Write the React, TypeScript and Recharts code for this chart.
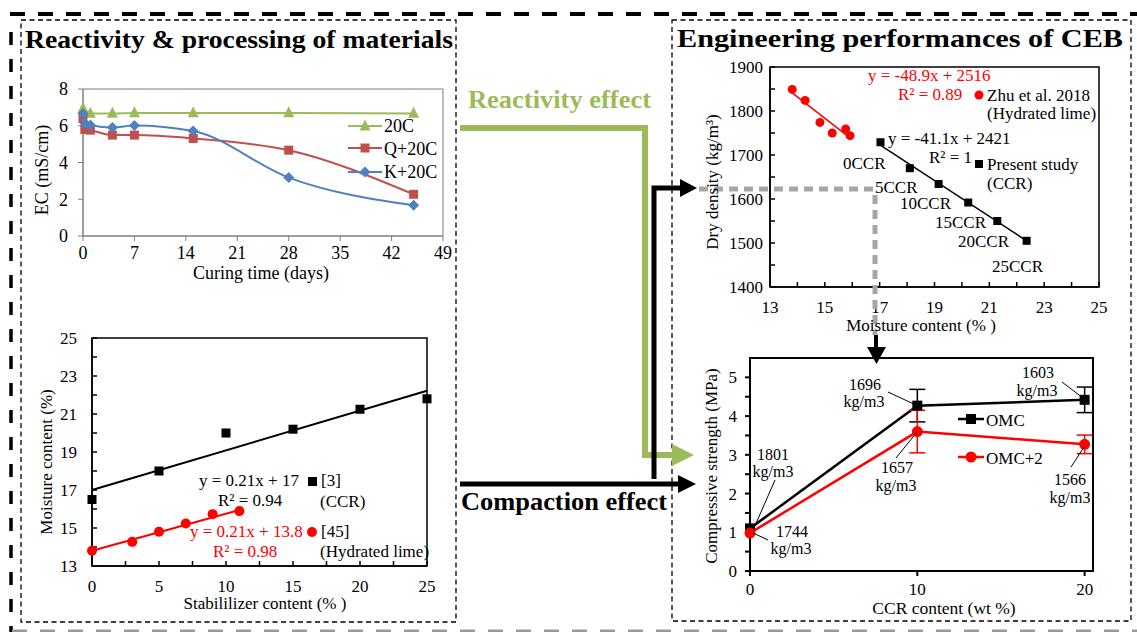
import React from 'react';
import { ComposedChart, Line, Scatter, XAxis, YAxis, ReferenceArea, ErrorBar } from 'recharts';

const SERIF = '"Liberation Serif", "Times New Roman", Times, serif';

// EC vs curing time
const curingDays = [0, 0.25, 1, 4, 7, 15, 28, 45];
const ec20C = [6.95, null, 6.67, 6.67, 6.7, 6.7, 6.7, 6.67];
const ecQ20C = [6.4, 5.8, 5.76, 5.49, 5.49, 5.31, 4.67, 2.27];
const ecK20C = [6.67, 6.13, 6.04, 5.9, 6.02, 5.71, 3.18, 1.67];
const curingTicks = [0, 7, 14, 21, 28, 35, 42, 49];
const ecTicks = [0, 2, 4, 6, 8];

// moisture content vs stabilizer content
const ccrStabilizer = [0, 5, 10, 15, 20, 25];
const ccrMoisture = [16.5, 18.0, 20.0, 20.2, 21.25, 21.8];
const limeStabilizer = [0, 3, 5, 7, 9, 11];
const limeMoisture = [13.8, 14.27, 14.8, 15.24, 15.73, 15.89];
const ccrFitX = [0, 25];
const ccrFitY = [17.0, 22.22];
const limeFitX = [0, 11];
const limeFitY = [13.8, 15.95];
const stabTicks = [0, 2.5, 5, 7.5, 10, 12.5, 15, 17.5, 20, 22.5, 25];
const moistTicks = [13, 14, 15, 16, 17, 18, 19, 20, 21, 22, 23, 24, 25];

// dry density vs moisture content
const zhuMoisture = [13.81, 14.28, 14.82, 15.27, 15.76, 15.92];
const zhuDensity = [1849, 1824, 1774, 1750, 1759, 1744];
const ccrMc = [17.03, 18.1, 19.15, 20.23, 21.29, 22.36];
const ccrDensity = [1729, 1670, 1634, 1592, 1550, 1505];
const zhuFitX = [13.81, 15.92];
const zhuFitY = [1841, 1739];
const ccrDenFitX = [17.01, 22.36];
const ccrDenFitY = [1723, 1505];
const mcTicks = [13, 14, 15, 16, 17, 18, 19, 20, 21, 22, 23, 24, 25];
const densTicks = [1400, 1450, 1500, 1550, 1600, 1650, 1700, 1750, 1800, 1850, 1900];

// compressive strength vs CCR content
const ccrContent = [0, 10, 20];
const omc = [1.1, 4.27, 4.42];
const omcErr = [0, 0.42, 0.33];
const omc2 = [0.98, 3.6, 3.27];
const omc2Err = [0, 0.55, 0.24];
const strengthTicks = [0, 0.5, 1, 1.5, 2, 2.5, 3, 3.5, 4, 4.5, 5];

const GREEN = '#9BBB59';
const RED_XL = '#C0504D';
const BLUE_XL = '#4F81BD';

const zip = (xs: number[], ys: number[]) => xs.map((x, i) => ({ x, y: ys[i] }));

const ecRows = curingDays.map((d, i) => ({ day: d, c20: ec20C[i], q20: ecQ20C[i], k20: ecK20C[i] }));
const strengthRows = ccrContent.map((c, i) => ({ ccr: c, omc: omc[i], omcErr: omcErr[i], omc2: omc2[i], omc2Err: omc2Err[i] }));

const tickStyle = (size: number) => ({ fill: '#000', fontSize: size, fontFamily: SERIF });

const blank = (p: any) => <g key={`b-${p.index}`} />;

const squareDot = (s: number, fill: string) => (p: any) =>
  p.cx == null || p.cy == null ? blank(p) : (
    <rect key={`s-${p.index}`} x={p.cx - s / 2} y={p.cy - s / 2} width={s} height={s} fill={fill} />
  );

const circleDot = (r: number, fill: string) => (p: any) =>
  p.cx == null || p.cy == null ? blank(p) : <circle key={`c-${p.index}`} cx={p.cx} cy={p.cy} r={r} fill={fill} />;

const triangleDot = (s: number, fill: string) => (p: any) =>
  p.cx == null || p.cy == null ? blank(p) : (
    <polygon key={`t-${p.index}`} points={`${p.cx},${p.cy - s * 0.6} ${p.cx + s / 2},${p.cy + s * 0.4} ${p.cx - s / 2},${p.cy + s * 0.4}`} fill={fill} />
  );

const diamondDot = (s: number, fill: string) => (p: any) =>
  p.cx == null || p.cy == null ? blank(p) : (
    <polygon key={`d-${p.index}`} points={`${p.cx},${p.cy - s / 2} ${p.cx + s / 2},${p.cy} ${p.cx},${p.cy + s / 2} ${p.cx - s / 2},${p.cy}`} fill={fill} />
  );

const T = ({ x, y, children, size = 17, fill = '#000', anchor = 'start', weight = 'normal', rotate, fit }: any) => (
  <text
    x={x}
    y={y}
    fontSize={size}
    fill={fill}
    textAnchor={anchor}
    fontWeight={weight}
    fontFamily={SERIF}
    transform={rotate ? `rotate(${rotate} ${x} ${y})` : undefined}
    textLength={fit}
    lengthAdjust={fit ? 'spacingAndGlyphs' : undefined}
  >
    {children}
  </text>
);

const ECChart = () => (
  <div style={{ position: 'absolute', left: 20, top: 80 }}>
    <ComposedChart width={440} height={201} data={ecRows} margin={{ top: 9, right: 17, left: 3, bottom: 0 }}>
      <ReferenceArea x1={0} x2={49} y1={0} y2={8} fill="none" stroke="#7f7f7f" strokeWidth={1} />
      <XAxis dataKey="day" type="number" domain={[0, 49]} ticks={curingTicks} interval={0} height={45}
        tickSize={5} tickMargin={5} stroke="#7f7f7f" tick={tickStyle(18)} />
      <YAxis type="number" domain={[0, 8]} ticks={ecTicks} interval={0} width={60}
        tickSize={5} tickMargin={10} stroke="#7f7f7f" tick={tickStyle(18)} />
      <Line dataKey="c20" type="monotone" stroke={GREEN} strokeWidth={2} connectNulls dot={triangleDot(11, GREEN)} isAnimationActive={false} />
      <Line dataKey="q20" type="monotone" stroke={RED_XL} strokeWidth={2} dot={squareDot(9, RED_XL)} isAnimationActive={false} />
      <Line dataKey="k20" type="monotone" stroke={BLUE_XL} strokeWidth={2} dot={diamondDot(11, BLUE_XL)} isAnimationActive={false} />
    </ComposedChart>
  </div>
);

const MoistureChart = () => (
  <div style={{ position: 'absolute', left: 20, top: 325 }}>
    <ComposedChart width={424} height={286} margin={{ top: 13, right: 17, left: 2, bottom: 0 }}>
      <ReferenceArea x1={0} x2={25} y1={13} y2={25} fill="none" stroke="#000" strokeWidth={1.5} />
      <XAxis dataKey="x" type="number" domain={[0, 25]} ticks={stabTicks} interval={0} height={45}
        tickSize={-5} tickMargin={19} stroke="#000" strokeWidth={1.5} tick={tickStyle(17)}
        tickFormatter={(v: number) => (v % 5 === 0 ? String(v) : '')} />
      <YAxis type="number" domain={[13, 25]} ticks={moistTicks} interval={0} width={70}
        tickSize={-5} tickMargin={20} stroke="#000" strokeWidth={1.5} tick={tickStyle(17)}
        tickFormatter={(v: number) => (v % 2 === 1 ? String(v) : '')} />
      <Line data={zip(ccrFitX, ccrFitY)} dataKey="y" type="linear" stroke="#000" strokeWidth={2} dot={false} isAnimationActive={false} />
      <Line data={zip(limeFitX, limeFitY)} dataKey="y" type="linear" stroke="#FF0000" strokeWidth={2} dot={false} isAnimationActive={false} />
      <Scatter data={zip(ccrStabilizer, ccrMoisture)} dataKey="y" shape={squareDot(9, '#000')} isAnimationActive={false} />
      <Scatter data={zip(limeStabilizer, limeMoisture)} dataKey="y" shape={circleDot(5, '#FF0000')} isAnimationActive={false} />
    </ComposedChart>
  </div>
);

const DensityChart = () => (
  <div style={{ position: 'absolute', left: 690, top: 55 }}>
    <ComposedChart width={425} height={272} margin={{ top: 12, right: 16, left: 2, bottom: 0 }}>
      <ReferenceArea x1={13} x2={25} y1={1400} y2={1900} fill="none" stroke="#000" strokeWidth={1.5} />
      <XAxis dataKey="x" type="number" domain={[13, 25]} ticks={mcTicks} interval={0} height={40}
        tickSize={-5} tickMargin={19} stroke="#000" strokeWidth={1.5} tick={tickStyle(17)}
        tickFormatter={(v: number) => (v % 2 === 1 ? String(v) : '')} />
      <YAxis type="number" domain={[1400, 1900]} ticks={densTicks} interval={0} width={78}
        tickSize={-5} tickMargin={12} stroke="#000" strokeWidth={1.5} tick={tickStyle(17)}
        tickFormatter={(v: number) => (v % 100 === 0 ? String(v) : '')} />
      <Line data={zip(zhuFitX, zhuFitY)} dataKey="y" type="linear" stroke="#FF0000" strokeWidth={1.5} dot={false} isAnimationActive={false} />
      <Line data={zip(ccrDenFitX, ccrDenFitY)} dataKey="y" type="linear" stroke="#000" strokeWidth={1.5} dot={false} isAnimationActive={false} />
      <Scatter data={zip(zhuMoisture, zhuDensity)} dataKey="y" shape={circleDot(4.5, '#FF0000')} isAnimationActive={false} />
      <Scatter data={zip(ccrMc, ccrDensity)} dataKey="y" shape={squareDot(8, '#000')} isAnimationActive={false} />
    </ComposedChart>
  </div>
);

const StrengthChart = () => (
  <div style={{ position: 'absolute', left: 690, top: 345 }}>
    <ComposedChart width={411} height={266} data={strengthRows} margin={{ top: 13, right: 8, left: 2, bottom: 0 }}>
      <ReferenceArea x1={0} x2={20.5} y1={0} y2={5.5} fill="none" stroke="#000" strokeWidth={2} />
      <XAxis dataKey="ccr" type="number" domain={[0, 20.5]} ticks={ccrContent} interval={0} height={40}
        tickSize={5} tickMargin={7} stroke="#000" strokeWidth={2} tick={tickStyle(17)} />
      <YAxis type="number" domain={[0, 5.5]} ticks={strengthTicks} interval={0} width={58}
        tickSize={5} tickMargin={8} stroke="#000" strokeWidth={2} tick={tickStyle(17)}
        tickFormatter={(v: number) => (Number.isInteger(v) ? String(v) : '')} />
      <Line dataKey="omc" type="linear" stroke="#000" strokeWidth={2.5} dot={squareDot(10, '#000')} isAnimationActive={false}>
        <ErrorBar dataKey="omcErr" width={8} stroke="#000" strokeWidth={1.5} direction="y" isAnimationActive={false} />
      </Line>
      <Line dataKey="omc2" type="linear" stroke="#FF0000" strokeWidth={2.5} dot={circleDot(5.5, '#FF0000')} isAnimationActive={false}>
        <ErrorBar dataKey="omc2Err" width={8} stroke="#FF0000" strokeWidth={1.5} direction="y" isAnimationActive={false} />
      </Line>
    </ComposedChart>
  </div>
);

const Overlay = () => (
  <svg width={1137} height={632} style={{ position: 'absolute', left: 0, top: 0, pointerEvents: 'none' }}>
    {/* outer frame */}
    <line x1={10} y1={14} x2={1137} y2={14} stroke="#000" strokeWidth={4} strokeDasharray="15 13" />
    <line x1={11} y1={32} x2={11} y2={632} stroke="#000" strokeWidth={3.5} strokeDasharray="13 14" />
    <line x1={12} y1={631} x2={1137} y2={631} stroke="#999" strokeWidth={3} strokeDasharray="15 13" />
    {/* inner boxes */}
    <rect x={21} y={20} width={435} height={602} fill="none" stroke="#000" strokeWidth={1.3} strokeDasharray="5 3.5" />
    <rect x={672} y={20} width={459} height={601} fill="none" stroke="#000" strokeWidth={1.3} strokeDasharray="5 3.5" />

    {/* titles */}
    <T x={25} y={48} size={25} weight="bold" fit={428}>Reactivity &amp; processing of materials</T>
    <T x={677} y={47} size={26} weight="bold" fit={446}>Engineering performances of CEB</T>
    <T x={468} y={108} size={25} weight="bold" fill={GREEN} fit={183}>Reactivity effect</T>
    <T x={461} y={510} size={25} weight="bold" fit={206}>Compaction effect</T>

    {/* connectors */}
    <path d="M460,128 H645 V455 H673" fill="none" stroke={GREEN} strokeWidth={6} />
    <polygon points="672,444 672,466 694,455" fill={GREEN} />
    <path d="M460,484 H679" fill="none" stroke="#000" strokeWidth={5} />
    <polygon points="678,475 678,493 696,484" fill="#000" />
    <path d="M654,479 V188 H681" fill="none" stroke="#000" strokeWidth={5} />
    <polygon points="680,179 680,197 697,188" fill="#000" />

    {/* gray guide lines */}
    <line x1={699} y1={189} x2={877} y2={189} stroke="#A6A6A6" strokeWidth={5} strokeDasharray="9 6" />
    <line x1={875} y1={195} x2={875} y2={335} stroke="#A6A6A6" strokeWidth={5} strokeDasharray="9 6" />
    <line x1={876} y1={335} x2={876} y2={350} stroke="#000" strokeWidth={4} />
    <polygon points="867,347 886,347 876.5,364" fill="#000" />

    {/* EC chart */}
    <T x={48} y={170} size={18} anchor="middle" rotate={-90}>EC (mS/cm)</T>
    <T x={261} y={279} size={18} anchor="middle">Curing time (days)</T>
    <line x1={348} y1={126} x2={382} y2={126} stroke={GREEN} strokeWidth={2} />
    {triangleDot(11, GREEN)({ cx: 365, cy: 126, index: 'l1' })}
    <T x={384} y={132} size={18}>20C</T>
    <line x1={348} y1={148} x2={382} y2={148} stroke={RED_XL} strokeWidth={2} />
    {squareDot(9, RED_XL)({ cx: 365, cy: 148, index: 'l2' })}
    <T x={384} y={155} size={18}>Q+20C</T>
    <line x1={348} y1={172} x2={382} y2={172} stroke={BLUE_XL} strokeWidth={2} />
    {diamondDot(11, BLUE_XL)({ cx: 365, cy: 172, index: 'l3' })}
    <T x={384} y={178} size={18}>K+20C</T>

    {/* moisture chart */}
    <T x={52} y={462} size={17} anchor="middle" rotate={-90}>Moisture content (%)</T>
    <T x={265} y={609} size={17} anchor="middle">Stabililizer content (% )</T>
    <T x={199} y={486} size={17}>y = 0.21x + 17</T>
    <T x={218} y={506} size={17}>R² = 0.94</T>
    <rect x={308} y={477} width={9} height={9} fill="#000" />
    <T x={321} y={486} size={17}>[3]</T>
    <T x={320} y={507} size={17}>(CCR)</T>
    <T x={190} y={537} size={17} fill="#FF0000">y = 0.21x + 13.8</T>
    <T x={213} y={557} size={17} fill="#FF0000">R² = 0.98</T>
    <circle cx={312} cy={532} r={5} fill="#FF0000" />
    <T x={321} y={537} size={17}>[45]</T>
    <T x={320} y={557} size={17}>(Hydrated lime)</T>

    {/* density chart */}
    <T x={718} y={182} size={17} anchor="middle" rotate={-90}>Dry density (kg/m³)</T>
    <T x={921} y={331} size={17} anchor="middle">Moisture content (% )</T>
    <T x={868} y={81} size={17} fill="#FF0000">y = -48.9x + 2516</T>
    <T x={898} y={100} size={17} fill="#FF0000">R² = 0.89</T>
    <circle cx={979} cy={95} r={4.5} fill="#FF0000" />
    <T x={987} y={101} size={17}>Zhu et al. 2018</T>
    <T x={987} y={119} size={17}>(Hydrated lime)</T>
    <T x={888} y={144} size={17}>y = -41.1x + 2421</T>
    <T x={929} y={163} size={17}>R² = 1</T>
    <rect x={975} y={160} width={8} height={8} fill="#000" />
    <T x={987} y={170} size={17}>Present study</T>
    <T x={987} y={189} size={17}>(CCR)</T>
    <T x={843} y={169} size={17}>0CCR</T>
    <T x={875} y={193} size={17}>5CCR</T>
    <T x={900} y={209} size={17}>10CCR</T>
    <T x={935} y={228} size={17}>15CCR</T>
    <T x={958} y={247} size={17}>20CCR</T>
    <T x={992} y={272} size={17}>25CCR</T>

    {/* strength chart */}
    <T x={717} y={466} size={17} anchor="middle" rotate={-90}>Compressive strength (MPa)</T>
    <T x={944} y={614} size={17.5} anchor="middle">CCR content (wt %)</T>
    <line x1={958} y1={419} x2={984} y2={419} stroke="#000" strokeWidth={2.5} />
    <rect x={966} y={414} width={10} height={10} fill="#000" />
    <T x={986} y={426} size={17}>OMC</T>
    <line x1={958} y1={457} x2={984} y2={457} stroke="#FF0000" strokeWidth={2.5} />
    <circle cx={971} cy={457} r={5.5} fill="#FF0000" />
    <T x={986} y={464} size={17}>OMC+2</T>

    <T x={773} y={460} size={16} anchor="middle">1801</T>
    <T x={773} y={477} size={16} anchor="middle">kg/m3</T>
    <line x1={775} y1={480} x2={754} y2={528} stroke="#000" strokeWidth={1} />
    <T x={792} y={537} size={16} anchor="middle">1744</T>
    <T x={791} y={554} size={16} anchor="middle">kg/m3</T>
    <line x1={753} y1={533} x2={768} y2={540} stroke="#000" strokeWidth={1} />
    <T x={865} y={390} size={16} anchor="middle">1696</T>
    <T x={864} y={407} size={16} anchor="middle">kg/m3</T>
    <line x1={888} y1={392} x2={918} y2={406} stroke="#000" strokeWidth={1} />
    <T x={897} y={473} size={16} anchor="middle">1657</T>
    <T x={896} y={491} size={16} anchor="middle">kg/m3</T>
    <line x1={896} y1={458} x2={917} y2={432} stroke="#000" strokeWidth={1} />
    <T x={1038} y={378} size={16} anchor="middle">1603</T>
    <T x={1037} y={396} size={16} anchor="middle">kg/m3</T>
    <line x1={1062} y1={382} x2={1083} y2={398} stroke="#000" strokeWidth={1} />
    <T x={1070} y={485} size={16} anchor="middle">1566</T>
    <T x={1070} y={503} size={16} anchor="middle">kg/m3</T>
    <line x1={1071} y1={467} x2={1084} y2={447} stroke="#000" strokeWidth={1} />
  </svg>
);

export default function App() {
  return (
    <div style={{ position: 'absolute', left: 0, top: 0, width: 1137, height: 632, background: '#fff', fontFamily: SERIF }}>
      <ECChart />
      <MoistureChart />
      <DensityChart />
      <StrengthChart />
      <Overlay />
    </div>
  );
}
